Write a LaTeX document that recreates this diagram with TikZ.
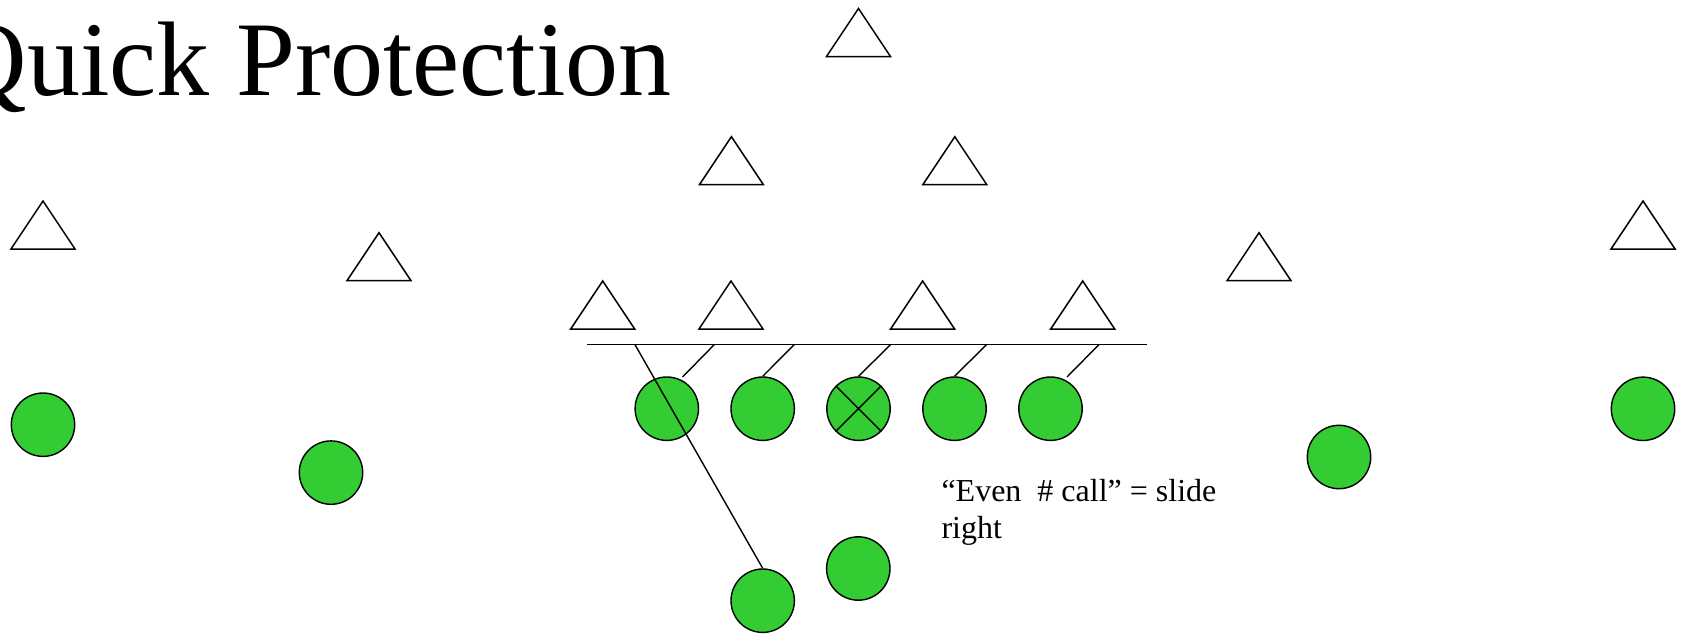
\documentclass[tikz,border=0pt]{standalone}
\usepackage{fontspec}
\setmainfont{Liberation Serif}
\definecolor{fieldgreen}{RGB}{51,204,51}
\begin{document}
\begin{tikzpicture}[x=1pt,y=-1pt,
  player/.style={circle, draw=black, line width=1.4pt, fill=fieldgreen,
                 minimum size=63.4pt, inner sep=0pt},
  blockline/.style={line width=1.4pt},
  defender/.pic={\draw[line width=1.5pt] (-32,0) -- (0,-48) -- (32,0) -- cycle;},
  titletext/.style={font=\fontsize{106}{110}\selectfont, inner sep=0pt},
  notetext/.style={font=\fontsize{32}{37}\selectfont, inner sep=0pt, align=left}
]
\useasboundingbox (0,0) rectangle (1684,635);
\clip (0,0) rectangle (1684,635);

% title
\node[titletext, anchor=base east] (title) at (672,95.5) {Quick Protection};

% defenders (base centre of each triangle)
\pic (dTop)   at (858.5,56.5)  {defender};
\pic (dLbA)   at (731.4,184.7) {defender};
\pic (dLbB)   at (954.8,184.7) {defender};
\pic (dCbL)   at (43,249)      {defender};
\pic (dCbR)   at (1643,249)    {defender};
\pic (dOlbL)  at (379,280.7)   {defender};
\pic (dOlbR)  at (1259,280.7)  {defender};
\pic (dDl1)   at (602.7,329)   {defender};
\pic (dDl2)   at (731,329)     {defender};
\pic (dDl3)   at (922.6,329)   {defender};
\pic (dDl4)   at (1082.7,329)  {defender};

% line of scrimmage
\coordinate (losL) at (586.8,344.7);
\coordinate (losR) at (1146.7,344.7);
\draw[blockline] (losL) -- (losR);

% offensive line
\node[player] (lt) at (666.8,408.7) {};
\node[player] (lg) at (762.7,408.7) {};
\node[player] (ce) at (858.5,408.7) {};
\node[player] (rg) at (954.5,408.7) {};
\node[player] (rt) at (1050.5,408.7) {};

% skill players
\node[player] (wrL)  at (43,424.7)    {};
\node[player] (slL)  at (331,472.6)   {};
\node[player] (slR)  at (1339,457)    {};
\node[player] (wrR)  at (1643,408.8)  {};
\node[player] (qb)   at (858.3,568.5) {};
\node[player] (rb)   at (762.7,600.7) {};

% centre marked with a cross
\draw[line width=1.4pt] (ce.45) -- (ce.225) (ce.135) -- (ce.315);

% slide blocking assignments
\coordinate (s0) at (635,344.7);
\coordinate (s1) at (714.2,344.7);
\coordinate (s2) at (794.2,344.7);
\coordinate (s3) at (890.5,344.7);
\coordinate (s4) at (986.5,344.7);
\coordinate (s5) at (1098.8,344.7);
\coordinate (e1) at (682.5,377);
\coordinate (e5) at (1067,377);
\draw[blockline] (s1) -- (e1);
\draw[blockline] (s2) -- (lg.north);
\draw[blockline] (s3) -- (ce.north);
\draw[blockline] (s4) -- (rg.north);
\draw[blockline] (s5) -- (e5);
\draw[blockline] (s0) -- (rb.north);

% note (base anchor sits on the last line)
\node[notetext, anchor=base west] (note) at (941.3,538)
  {``Even\ \ \# call'' = slide\\right};
\end{tikzpicture}
\end{document}
